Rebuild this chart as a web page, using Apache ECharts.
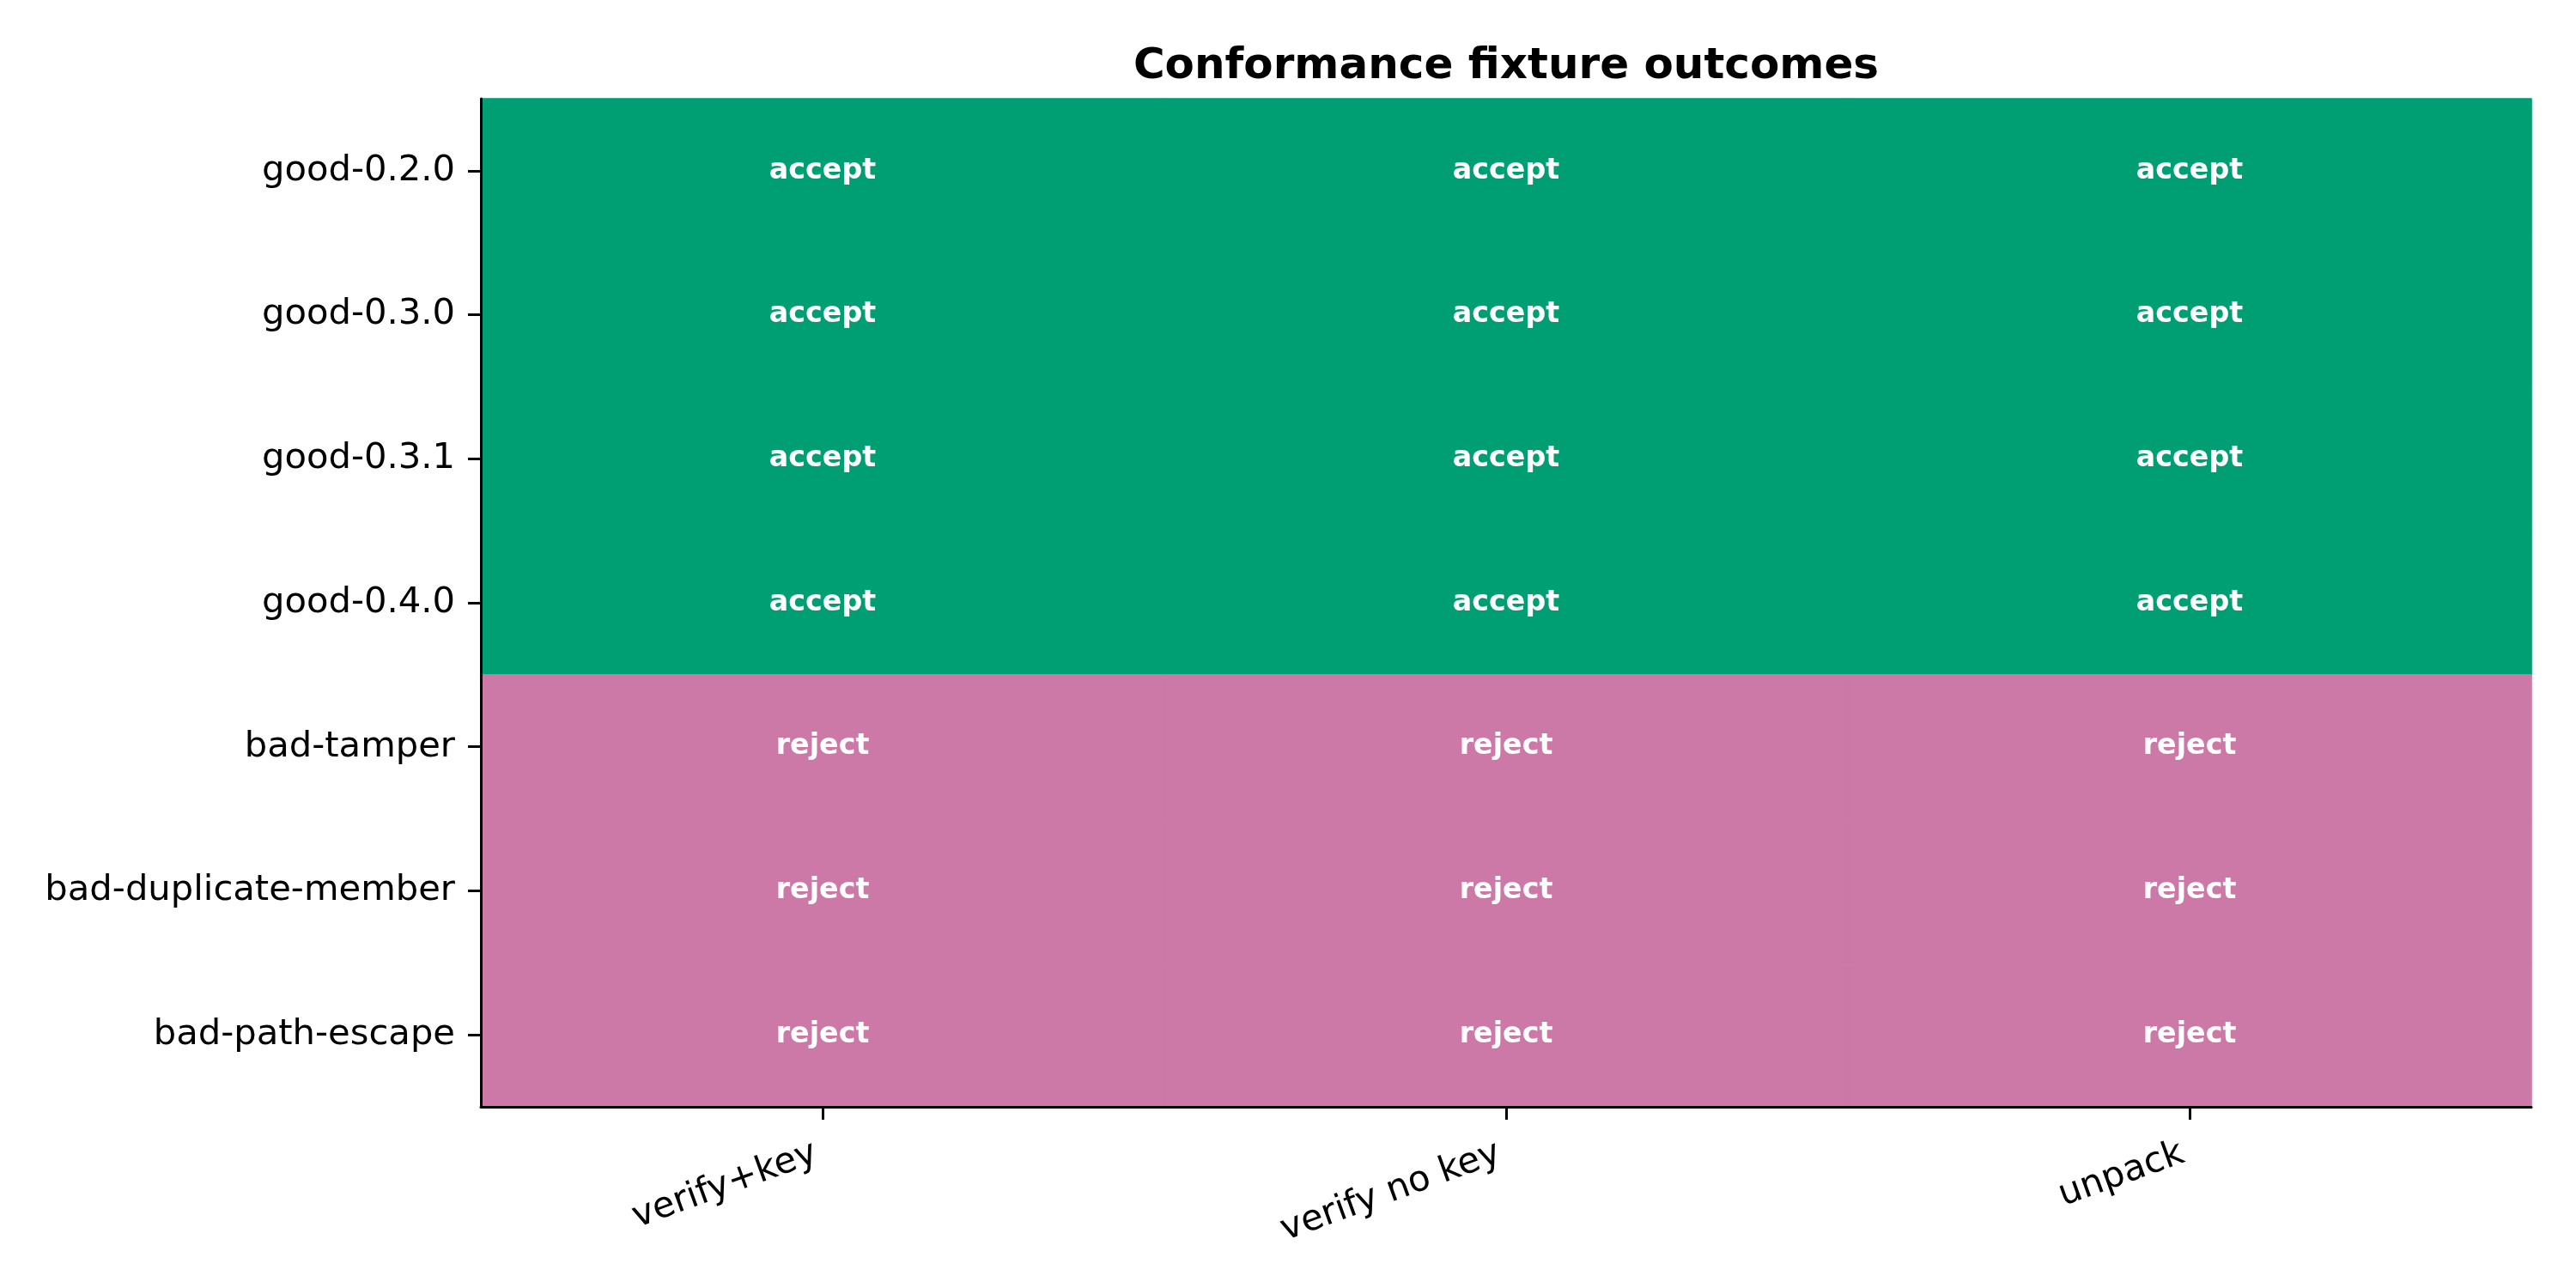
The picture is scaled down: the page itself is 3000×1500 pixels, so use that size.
<!DOCTYPE html>
<html>
<head>
<meta charset="utf-8">
<script src="https://cdn.jsdelivr.net/npm/echarts@6/dist/echarts.min.js"></script>
<style>
  html, body { margin: 0; padding: 0; background: #fff; }
  #chart { width: 3000px; height: 1500px; }
</style>
</head>
<body>
<div id="chart"></div>
<script>
// fixtures top to bottom, modes left to right
var fixtures = ['good-0.2.0', 'good-0.3.0', 'good-0.3.1', 'good-0.4.0', 'bad-tamper', 'bad-duplicate-member', 'bad-path-escape'];
var modes = ['verify+key', 'verify no key', 'unpack'];
var outcomes = [
  ['accept', 'accept', 'accept'],
  ['accept', 'accept', 'accept'],
  ['accept', 'accept', 'accept'],
  ['accept', 'accept', 'accept'],
  ['reject', 'reject', 'reject'],
  ['reject', 'reject', 'reject'],
  ['reject', 'reject', 'reject']
];
var outcomeCodes = ['reject', 'accept'];
var outcomeColors = { accept: '#009E73', reject: '#CC79A7' };

var FONT = 'DejaVu Sans';

var cells = [];
outcomes.forEach(function (row, yi) {
  row.forEach(function (o, xi) {
    cells.push({
      value: [xi, yi, outcomeCodes.indexOf(o)],
      // border in same colour hides the seams between cells
      itemStyle: { color: outcomeColors[o], borderColor: outcomeColors[o], borderWidth: 1 }
    });
  });
});

var chart = echarts.init(document.getElementById('chart'));

var option = {
  animation: false,
  backgroundColor: '#ffffff',
  title: {
    text: 'Conformance fixture outcomes',
    left: 1749,
    textAlign: 'center',
    top: 48,
    textStyle: { fontFamily: FONT, fontSize: 50, fontWeight: 'bold', color: '#000' }
  },
  grid: { left: 560, right: 52, top: 115, bottom: 211 },
  xAxis: {
    type: 'category',
    data: modes,
    z: 10,
    splitArea: { show: false },
    axisLine: { show: true, lineStyle: { color: '#000', width: 3 } },
    axisTick: { show: true, alignWithLabel: true, length: 15, lineStyle: { color: '#000', width: 3 } },
    axisLabel: {
      rotate: 20,
      align: 'right',
      verticalAlign: 'top',
      margin: 28,
      padding: [0, 16, 0, 0],
      fontFamily: FONT,
      fontSize: 41.7,
      color: '#000'
    }
  },
  yAxis: {
    type: 'category',
    data: fixtures,
    inverse: true,
    z: 10,
    splitArea: { show: false },
    axisLine: { show: true, lineStyle: { color: '#000', width: 3 } },
    axisTick: { show: true, alignWithLabel: true, length: 15, lineStyle: { color: '#000', width: 3 } },
    axisLabel: { margin: 30, fontFamily: FONT, fontSize: 41.7, color: '#000' }
  },
  series: [{
    type: 'heatmap',
    data: cells,
    label: {
      show: true,
      fontFamily: FONT,
      fontSize: 33.3,
      fontWeight: 'bold',
      color: '#fff',
      formatter: function (p) { return outcomeCodes[p.value[2]]; }
    },
    emphasis: { disabled: true }
  }]
};

chart.setOption(option);
</script>
</body>
</html>
